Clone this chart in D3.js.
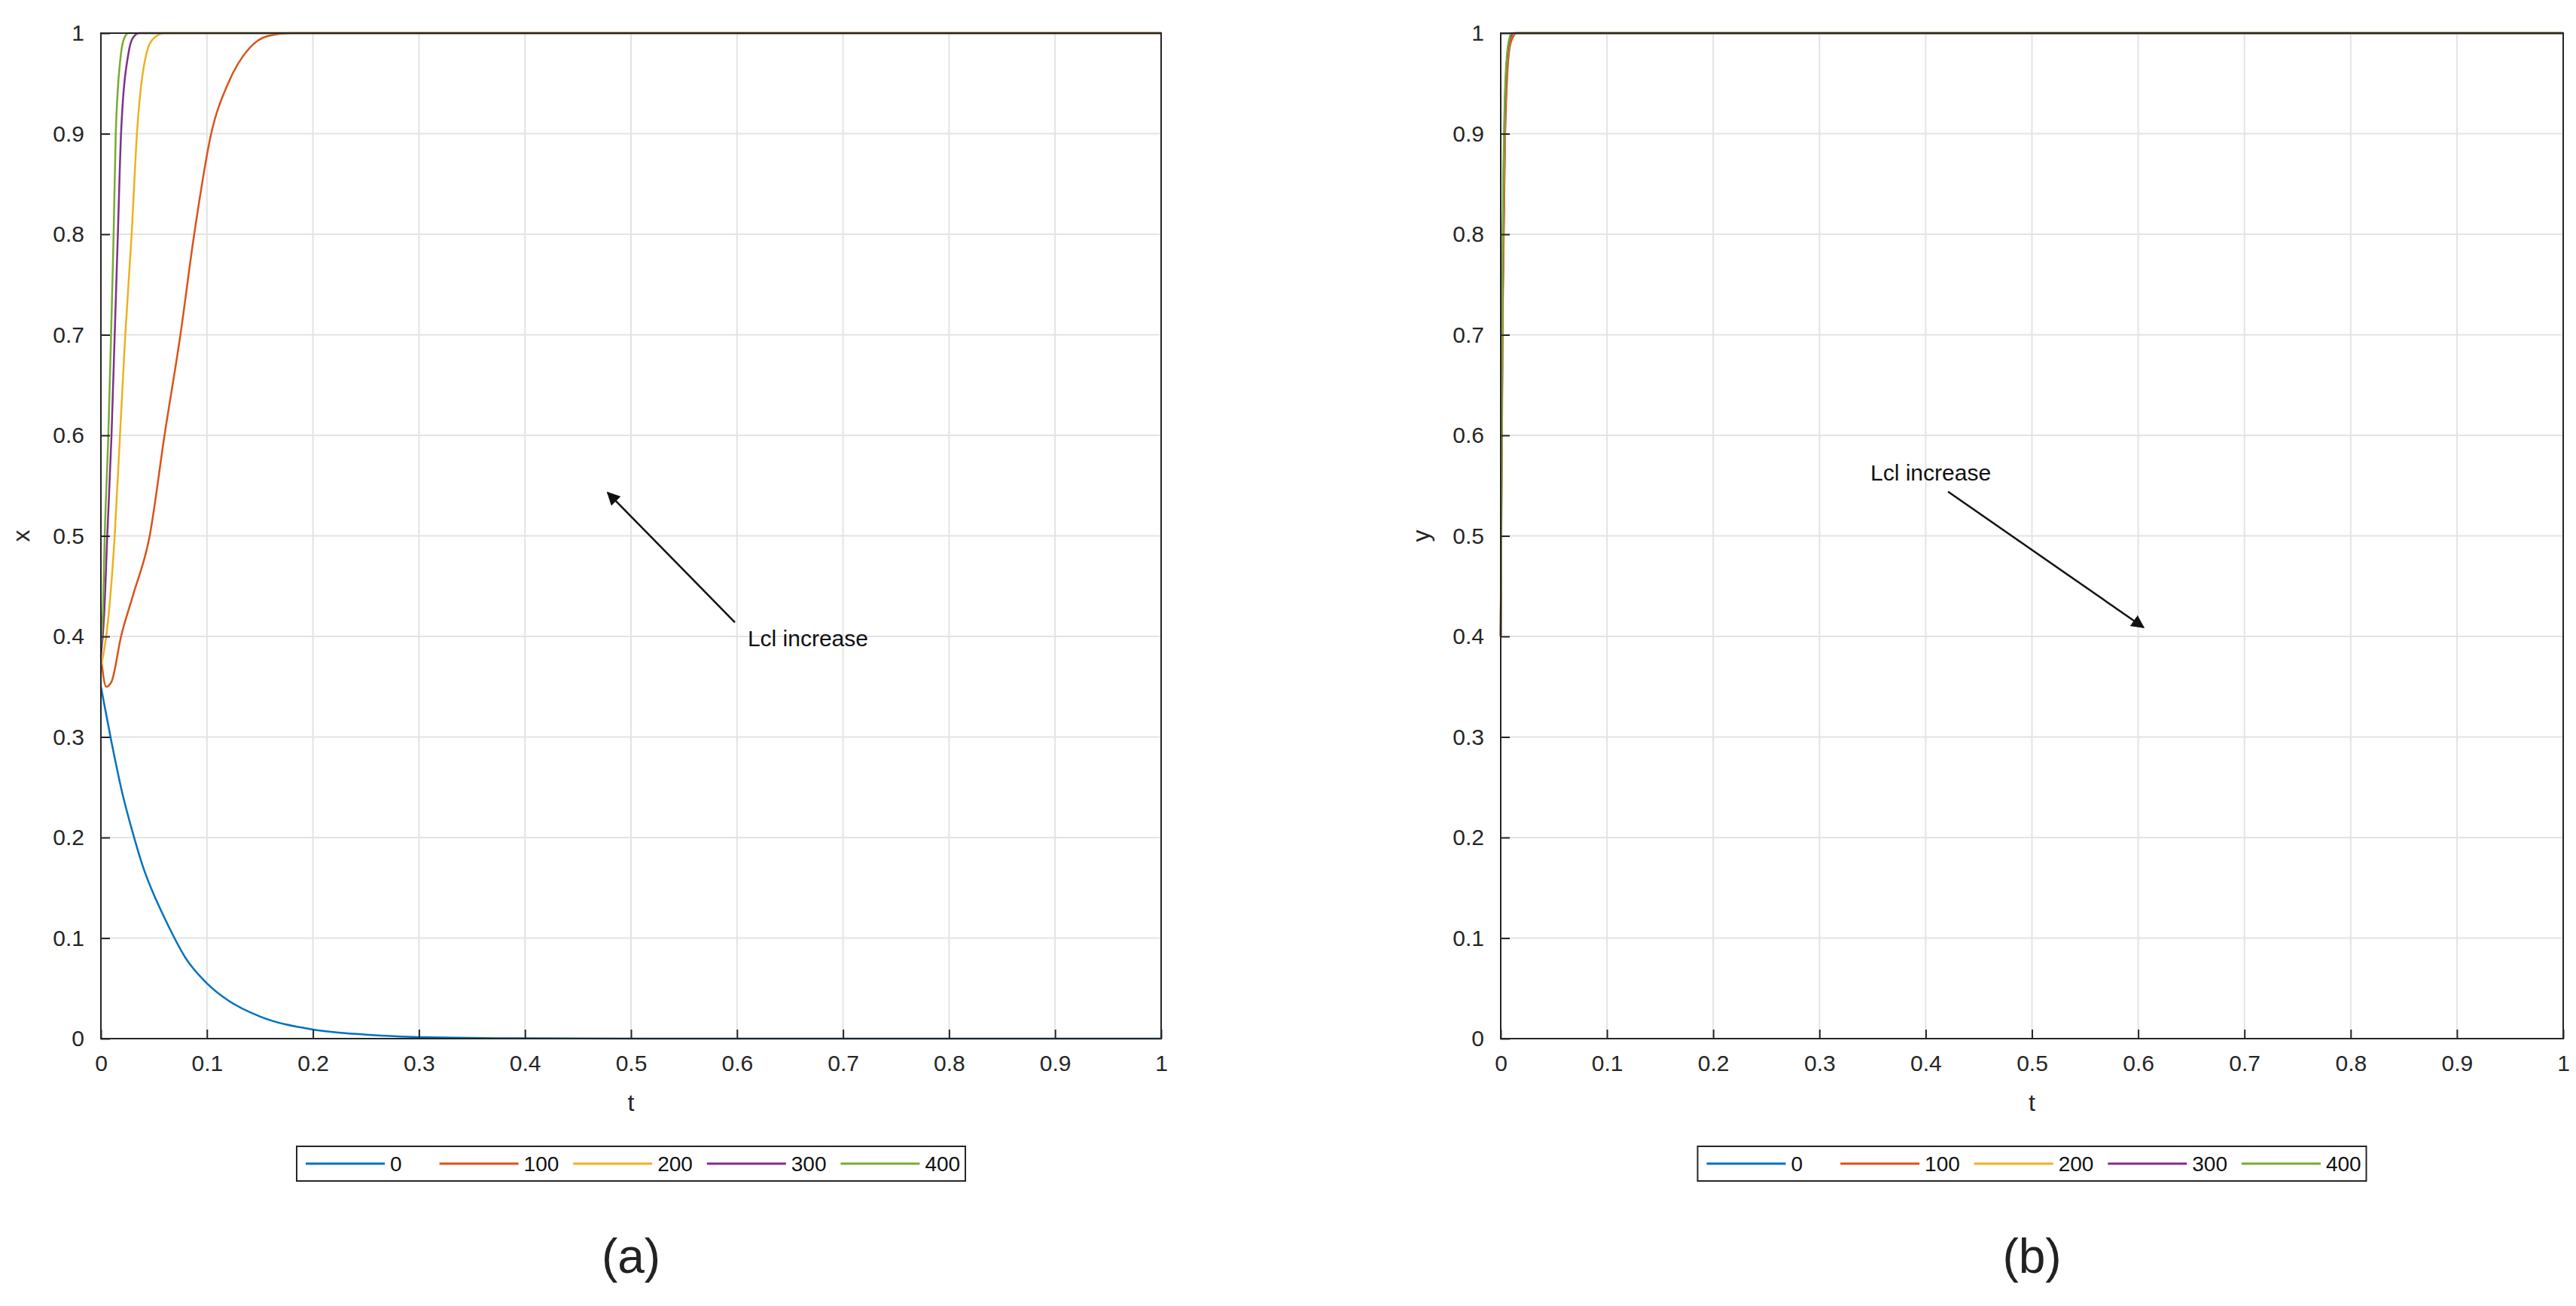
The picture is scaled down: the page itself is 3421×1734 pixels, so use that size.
<!DOCTYPE html>
<html><head><meta charset="utf-8">
<script src="https://cdn.jsdelivr.net/npm/d3@7"></script>
<style>body{margin:0;background:#fff}text{font-family:"Liberation Sans",Arial,sans-serif}</style>
</head><body>
<script>
// Donnees
const seriesNames = ["0", "100", "200", "300", "400"];
const colors = ["#0072BD", "#D95319", "#EDB120", "#7E2F8E", "#77AC30"];
const xTicks = [0, 0.1, 0.2, 0.3, 0.4, 0.5, 0.6, 0.7, 0.8, 0.9, 1];
const yTicks = [0, 0.1, 0.2, 0.3, 0.4, 0.5, 0.6, 0.7, 0.8, 0.9, 1];

// panneau (a) : x(t)
const tA0 = [0, 0.01, 0.02, 0.03, 0.04, 0.05, 0.06, 0.08, 0.1, 0.12, 0.15, 0.2, 0.25, 0.3, 0.4, 0.6, 1];
const xA0 = [0.35, 0.295, 0.245, 0.205, 0.17, 0.143, 0.12, 0.08, 0.055, 0.038, 0.022, 0.009, 0.004, 0.0015, 0.0003, 0, 0];
const tA1 = [0, 0.005, 0.01, 0.019, 0.03, 0.046, 0.06, 0.075, 0.088, 0.104, 0.12, 0.14, 0.157, 0.18, 0.2, 1];
const xA1 = [0.38, 0.35, 0.355, 0.4, 0.44, 0.5, 0.6, 0.7, 0.8, 0.9, 0.95, 0.985, 0.997, 1, 1, 1];
const tA2 = [0, 0.005, 0.013, 0.018, 0.023, 0.029, 0.034, 0.043, 0.05, 0.06, 1];
const xA2 = [0.37, 0.4, 0.5, 0.6, 0.7, 0.8, 0.9, 0.98, 0.995, 1, 1];
const tA3 = [0, 0.003, 0.006, 0.01, 0.013, 0.016, 0.019, 0.026, 0.03, 0.036, 1];
const xA3 = [0.38, 0.42, 0.5, 0.6, 0.7, 0.8, 0.9, 0.98, 0.995, 1, 1];
const tA4 = [0, 0.002, 0.0036, 0.007, 0.0096, 0.012, 0.014, 0.019, 0.022, 0.026, 1];
const xA4 = [0.39, 0.43, 0.5, 0.6, 0.7, 0.8, 0.9, 0.98, 0.995, 1, 1];

// panneau (b) : y(t)
const tB0 = [0, 0.001, 0.002, 0.004, 0.006, 0.008, 0.011, 0.015, 1];
const yB0 = [0.4, 0.6, 0.75, 0.9, 0.96, 0.985, 0.996, 1, 1];
const tB1 = [0, 0.001, 0.002, 0.004, 0.006, 0.008, 0.011, 0.015, 1];
const yB1 = [0.4, 0.58, 0.73, 0.89, 0.955, 0.983, 0.995, 1, 1];
const tB2 = [0, 0.001, 0.002, 0.004, 0.006, 0.008, 0.01, 0.013, 1];
const yB2 = [0.4, 0.62, 0.77, 0.92, 0.97, 0.99, 0.997, 1, 1];
const tB3 = [0, 0.001, 0.002, 0.004, 0.006, 0.008, 0.01, 0.012, 1];
const yB3 = [0.4, 0.64, 0.79, 0.93, 0.975, 0.992, 0.998, 1, 1];
const tB4 = [0, 0.001, 0.002, 0.004, 0.006, 0.008, 0.01, 1];
const yB4 = [0.4, 0.66, 0.81, 0.94, 0.98, 0.994, 1, 1];

const W = 3421, H = 1734;
const svg = d3.select("body").append("svg").attr("width", W).attr("height", H);

const panels = [
  {left: 134, right: 1542, ts: [tA0, tA1, tA2, tA3, tA4], vs: [xA0, xA1, xA2, xA3, xA4], ylab: "x", tag: "(a)",
   arrow: [[0.598, 0.414], [0.478, 0.543]], txt: [0.61, 0.39]},
  {left: 1993, right: 3404, ts: [tB0, tB1, tB2, tB3, tB4], vs: [yB0, yB1, yB2, yB3, yB4], ylab: "y", tag: "(b)",
   arrow: [[0.421, 0.544], [0.605, 0.409]], txt: [0.348, 0.555]}
];
const plotTop = 44, plotBottom = 1379;

svg.append("defs").append("marker").attr("id", "ah")
  .attr("viewBox", "0 0 10 10").attr("refX", 9).attr("refY", 5)
  .attr("markerWidth", 7).attr("markerHeight", 7).attr("orient", "auto")
  .append("path").attr("d", "M0,0L10,5L0,10z").attr("fill", "#111");

panels.forEach(p => {
  const x = d3.scaleLinear().domain([0, 1]).range([p.left, p.right]);
  const y = d3.scaleLinear().domain([0, 1]).range([plotBottom, plotTop]);
  const g = svg.append("g");

  // grille
  g.selectAll(".gx").data(xTicks).join("line")
    .attr("x1", d => x(d)).attr("x2", d => x(d)).attr("y1", plotTop).attr("y2", plotBottom)
    .attr("stroke", "#e3e3e3").attr("stroke-width", 2);
  g.selectAll(".gy").data(yTicks).join("line")
    .attr("y1", d => y(d)).attr("y2", d => y(d)).attr("x1", p.left).attr("x2", p.right)
    .attr("stroke", "#e3e3e3").attr("stroke-width", 2);

  // courbes
  const line = d3.line().x(d => x(d[0])).y(d => y(d[1])).curve(d3.curveMonotoneX);
  p.ts.forEach((ts, i) => {
    g.append("path").datum(ts.map((t, j) => [t, p.vs[i][j]]))
      .attr("d", line).attr("fill", "none").attr("stroke", colors[i]).attr("stroke-width", 2.5);
  });

  // axes (ticks vers l'interieur)
  const ax = g.append("g").attr("transform", `translate(0,${plotBottom})`)
    .call(d3.axisBottom(x).tickValues(xTicks).tickSize(-12).tickPadding(22).tickFormat(d3.format("~g")));
  const ay = g.append("g").attr("transform", `translate(${p.left},0)`)
    .call(d3.axisLeft(y).tickValues(yTicks).tickSize(-12).tickPadding(22).tickFormat(d3.format("~g")));
  [ax, ay].forEach(a => {
    a.select(".domain").remove();
    a.selectAll("line").attr("stroke", "#262626").attr("stroke-width", 2);
    a.selectAll("text").attr("font-size", 30).attr("fill", "#262626");
  });
  g.append("rect").attr("x", p.left).attr("y", plotTop).attr("width", p.right - p.left).attr("height", plotBottom - plotTop)
    .attr("fill", "none").attr("stroke", "#262626").attr("stroke-width", 2);

  g.append("text").attr("x", (p.left + p.right) / 2).attr("y", 1475).attr("text-anchor", "middle")
    .attr("font-size", 32).attr("fill", "#262626").text("t");
  g.append("text").attr("transform", `translate(${p.left - 95},${y(0.5)}) rotate(-90)`)
    .attr("text-anchor", "middle").attr("font-size", 32).attr("fill", "#262626").text(p.ylab);

  // annotation
  g.append("line").attr("x1", x(p.arrow[0][0])).attr("y1", y(p.arrow[0][1]))
    .attr("x2", x(p.arrow[1][0])).attr("y2", y(p.arrow[1][1]))
    .attr("stroke", "#111").attr("stroke-width", 2.5).attr("marker-end", "url(#ah)");
  g.append("text").attr("x", x(p.txt[0])).attr("y", y(p.txt[1])).attr("font-size", 30)
    .attr("fill", "#111").text("Lcl increase");

  // legende
  const lx = (p.left + p.right) / 2 - 444, ly = 1522;
  g.append("rect").attr("x", lx).attr("y", ly).attr("width", 888).attr("height", 46)
    .attr("fill", "#fff").attr("stroke", "#262626").attr("stroke-width", 2);
  const step = 888 / 5;
  seriesNames.forEach((n, i) => {
    const sx = lx + 12 + i * step;
    g.append("line").attr("x1", sx).attr("x2", sx + 105).attr("y1", ly + 23).attr("y2", ly + 23)
      .attr("stroke", colors[i]).attr("stroke-width", 3);
    g.append("text").attr("x", sx + 112).attr("y", ly + 33).attr("font-size", 28)
      .attr("fill", "#111").text(n);
  });

  g.append("text").attr("x", (p.left + p.right) / 2).attr("y", 1690).attr("text-anchor", "middle")
    .attr("font-family", "DejaVu Serif, serif").attr("font-size", 64).attr("fill", "#222").text(p.tag);
});
</script>
</body></html>
